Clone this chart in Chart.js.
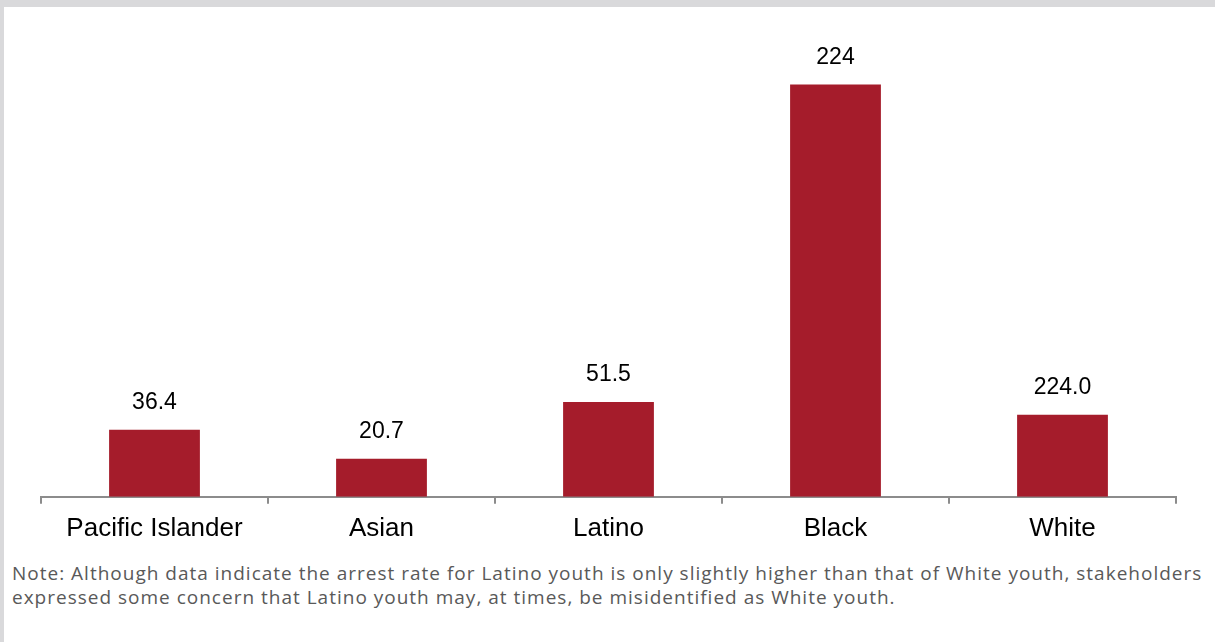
<!DOCTYPE html>
<html>
<head>
<meta charset="utf-8">
<script src="https://cdn.jsdelivr.net/npm/chart.js@4"></script>
<style>
    body { margin: 0; background: #d9d9db; }
    #page { position: absolute; left: 4px; top: 7px; width: 1211px; height: 635px; background: #fff; }
    #chartBox { position: absolute; left: 0; top: 0; width: 1211px; height: 546px; }
    #note {
        position: absolute; left: 8px; top: 554px;
        font-family: "Open Sans", Lato, sans-serif; font-size: 19px; line-height: 24px;
        letter-spacing: 1px;
        color: #595959; white-space: nowrap;
    }
</style>
</head>
<body>
<div id="page">
    <div id="chartBox"><canvas id="arrestChart"></canvas></div>
    <div id="note">Note: Although data indicate the arrest rate for Latino youth is only slightly higher than that of White youth, stakeholders<br>expressed some concern that Latino youth may, at times, be misidentified as White youth.</div>
</div>
<script>
const categories = ['Pacific Islander', 'Asian', 'Latino', 'Black', 'White'];
const rates = [36.4, 20.7, 51.5, 224, 44.6];
// labels as printed on the original chart
const rateLabels = ['36.4', '20.7', '51.5', '224', '224.0'];

const barColor = '#a51c2b';
const axisColor = '#8c8c8c';

// draws the value above each bar
const valueLabels = {
    id: 'valueLabels',
    afterDatasetsDraw(chart) {
        const ctx = chart.ctx;
        const bars = chart.getDatasetMeta(0).data;
        ctx.save();
        ctx.font = '23px "Liberation Sans", Arial, sans-serif';
        ctx.fillStyle = '#000';
        ctx.textAlign = 'center';
        ctx.textBaseline = 'middle';
        bars.forEach((bar, i) => {
            ctx.fillText(rateLabels[i], bar.x, bar.y - 27);
        });
        ctx.restore();
    }
};

new Chart(document.getElementById('arrestChart'), {
    type: 'bar',
    data: {
        labels: categories,
        datasets: [{
            data: rates,
            backgroundColor: barColor,
            barPercentage: 0.4,
            categoryPercentage: 1.0
        }]
    },
    options: {
        responsive: true,
        maintainAspectRatio: false,
        animation: false,
        layout: { padding: { left: 37, right: 39, top: 13, bottom: 0 } },
        plugins: {
            legend: { display: false },
            tooltip: { enabled: false }
        },
        scales: {
            x: {
                grid: {
                    display: true,
                    drawOnChartArea: false,
                    color: axisColor,
                    tickLength: 7,
                    lineWidth: 2
                },
                border: { color: axisColor, width: 2 },
                ticks: {
                    color: '#000',
                    padding: 9,
                    font: { family: '"Liberation Sans", Arial, sans-serif', size: 26 }
                }
            },
            y: {
                display: false,
                min: 0,
                max: 259
            }
        }
    },
    plugins: [valueLabels]
});
</script>
</body>
</html>
